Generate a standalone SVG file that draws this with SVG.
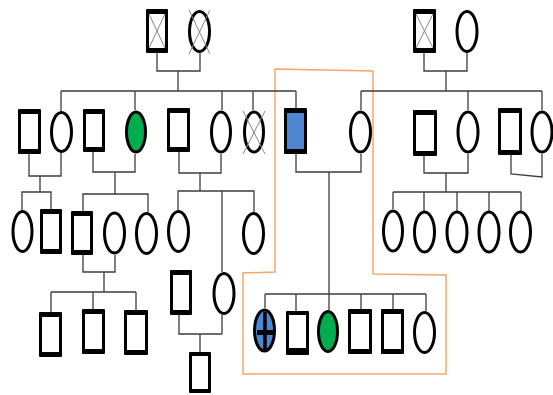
<svg xmlns="http://www.w3.org/2000/svg" width="553" height="395" viewBox="0 0 553 395">
<style>
.bg{fill:#fff}
.so{fill:#000}
.si{fill:#fff}
.si.blue{fill:#4f86cf}
.ci{fill:#fff;stroke:#000;stroke-width:3}
.ci.green{fill:#00ad4e}
.ci.blue{fill:#4f86cf}
.x{stroke:#888;stroke-width:1;fill:none}
.ln{stroke:#3c3c3c;stroke-width:1.3;fill:none}
.box{stroke:#f5a66c;stroke-width:1.5;fill:none}
.cross{stroke:#000;fill:none}
</style>
<rect class="bg" x="0" y="0" width="553" height="395"/>
<polygon class="box" points="275,69 373,71 373,274 446,275 446,374 243,374 243,273 275,272"/>
<g id="connectors">
<path class="ln" d="M157,53 V71 H200 V53 M178,71 V91"/>
<path class="ln" d="M61,91 H296 M61,91 V111 M135,91 V110 M222,91 V110 M253,91 V110 M296,91 V108"/>
<path class="ln" d="M424,53 V71 H467 V53 M446,71 V91"/>
<path class="ln" d="M361,91 H542 M361,91 V110 M468,91 V110 M542,91 V110"/>
<path class="ln" d="M29,154 V176 H61 V153 M40,176 V192 M22,210 V192 H51 V209"/>
<path class="ln" d="M93,152 V172 H135 V154 M115,172 V194 M83,211 V194 H148 V212"/>
<path class="ln" d="M179,152 V173 H221 V154 M200,173 V191 M178,210 V191 H254 V212 M222,191 V272 M222,315 V334"/>
<path class="ln" d="M179,315 V334 H222 M200,334 V352"/>
<path class="ln" d="M296,154 V172 H361 V154 M329,172 V294"/>
<path class="ln" d="M265,294 H426 M265,294 V308 M296,294 V311 M329,294 V310 M361,294 V309 M393,294 V309 M426,294 V311"/>
<path class="ln" d="M424,156 V173 H468 V154 M446,173 V192 M393,192 H521 M393,192 V209 M424,192 V211 M457,192 V211 M489,192 V211 M521,192 V211"/>
<path class="ln" d="M511,155 V174 L542,177 V154"/>
<path class="ln" d="M83,255 V272 H115 V255 M104,272 V292 M51,292 H136 M51,292 V312 M93,292 V309 M136,292 V310"/>
</g>
<g id="gf1"><rect class="so" x="146" y="9" width="22" height="44" rx="1"/><rect class="si" x="149" y="14" width="16" height="34"/><path class="x" d="M149,14 L165,48 M165,14 L149,48"/></g>
<g id="gm1"><ellipse class="ci" cx="199.5" cy="31.5" rx="10" ry="20"/><path class="x" d="M189,10 L210,54 M210,10 L189,54"/></g>
<g id="gf2"><rect class="so" x="413" y="9" width="23" height="44" rx="1"/><rect class="si" x="416" y="14" width="17" height="34"/><path class="x" d="M416,14 L433,48 M433,14 L416,48"/></g>
<g id="gm2"><ellipse class="ci" cx="467" cy="31.5" rx="10" ry="20"/></g>
<g id="s1"><rect class="so" x="18" y="109" width="23" height="45" rx="1"/><rect class="si" x="21" y="114" width="17" height="35"/></g>
<g id="c1"><ellipse class="ci" cx="61.5" cy="132" rx="10" ry="19.5"/></g>
<g id="s2"><rect class="so" x="83" y="109" width="22" height="43" rx="1"/><rect class="si" x="86" y="114" width="16" height="33"/></g>
<g id="g1"><ellipse class="ci green" cx="136" cy="132" rx="9.5" ry="20"/></g>
<g id="s3"><rect class="so" x="167" y="108" width="23" height="44" rx="1"/><rect class="si" x="170" y="113" width="17" height="34"/></g>
<g id="c2"><ellipse class="ci" cx="221" cy="132" rx="9.5" ry="20"/></g>
<g id="c3"><ellipse class="ci" cx="254" cy="132" rx="9.5" ry="20"/><path class="x" d="M243,111 L265,154 M265,111 L243,154"/></g>
<g id="b1"><rect class="so" x="284" y="108" width="23" height="46" rx="1"/><rect class="si blue" x="287" y="113" width="17" height="36"/></g>
<g id="c4"><ellipse class="ci" cx="360.5" cy="132" rx="10" ry="20"/></g>
<g id="s5"><rect class="so" x="413" y="110" width="24" height="46" rx="1"/><rect class="si" x="416" y="115" width="18" height="36"/></g>
<g id="c5"><ellipse class="ci" cx="468" cy="132" rx="10" ry="20"/></g>
<g id="s6"><rect class="so" x="498" y="108" width="24" height="47" rx="1"/><rect class="si" x="501" y="113" width="18" height="37"/></g>
<g id="c6"><ellipse class="ci" cx="542" cy="132" rx="10" ry="20"/></g>
<g id="c7"><ellipse class="ci" cx="22.5" cy="231.5" rx="9.5" ry="20"/></g>
<g id="s7"><rect class="so" x="40" y="209" width="22" height="45" rx="1"/><rect class="si" x="43" y="214" width="16" height="35"/></g>
<g id="s8"><rect class="so" x="71" y="211" width="22" height="44" rx="1"/><rect class="si" x="74" y="216" width="16" height="34"/></g>
<g id="c8"><ellipse class="ci" cx="114.5" cy="233" rx="10" ry="20"/></g>
<g id="c9"><ellipse class="ci" cx="146.5" cy="233.5" rx="10" ry="20"/></g>
<g id="c10"><ellipse class="ci" cx="178.5" cy="231.5" rx="10" ry="20"/></g>
<g id="c11"><ellipse class="ci" cx="253.5" cy="233.5" rx="10" ry="20"/></g>
<g id="c12"><ellipse class="ci" cx="393" cy="231" rx="9.5" ry="20"/></g>
<g id="c13"><ellipse class="ci" cx="424.5" cy="232" rx="10" ry="20"/></g>
<g id="c14"><ellipse class="ci" cx="457" cy="232" rx="10" ry="20"/></g>
<g id="c15"><ellipse class="ci" cx="489" cy="232" rx="10" ry="20"/></g>
<g id="c16"><ellipse class="ci" cx="520.5" cy="232" rx="10" ry="20"/></g>
<g id="s9"><rect class="so" x="170" y="270" width="22" height="45" rx="1"/><rect class="si" x="173" y="275" width="16" height="35"/></g>
<g id="c17"><ellipse class="ci" cx="224" cy="293.5" rx="10" ry="20"/></g>
<g id="s10"><rect class="so" x="39" y="312" width="23" height="45" rx="1"/><rect class="si" x="42" y="317" width="17" height="35"/></g>
<g id="s11"><rect class="so" x="82" y="309" width="23" height="45" rx="1"/><rect class="si" x="85" y="314" width="17" height="35"/></g>
<g id="s12"><rect class="so" x="124" y="310" width="24" height="45" rx="1"/><rect class="si" x="127" y="315" width="18" height="35"/></g>
<g id="s13"><rect class="so" x="189" y="352" width="22" height="41" rx="1"/><rect class="si" x="192" y="356" width="16" height="33"/></g>
<g id="bc1"><ellipse class="ci blue" cx="264.5" cy="330.5" rx="10" ry="20.5"/><path class="cross" stroke-width="3.5" d="M265,312 V350"/><path class="cross" stroke-width="5" d="M257,332.5 H273"/></g>
<g id="s14"><rect class="so" x="286" y="311" width="23" height="44" rx="1"/><rect class="si" x="289" y="315" width="17" height="33"/></g>
<g id="g2"><ellipse class="ci green" cx="328" cy="331.5" rx="9.5" ry="20"/></g>
<g id="s15"><rect class="so" x="348" y="309" width="24" height="45" rx="1"/><rect class="si" x="351" y="314" width="18" height="35"/></g>
<g id="s16"><rect class="so" x="381" y="309" width="23" height="45" rx="1"/><rect class="si" x="384" y="314" width="17" height="35"/></g>
<g id="c18"><ellipse class="ci" cx="424.5" cy="332.5" rx="10" ry="20"/></g>
</svg>
